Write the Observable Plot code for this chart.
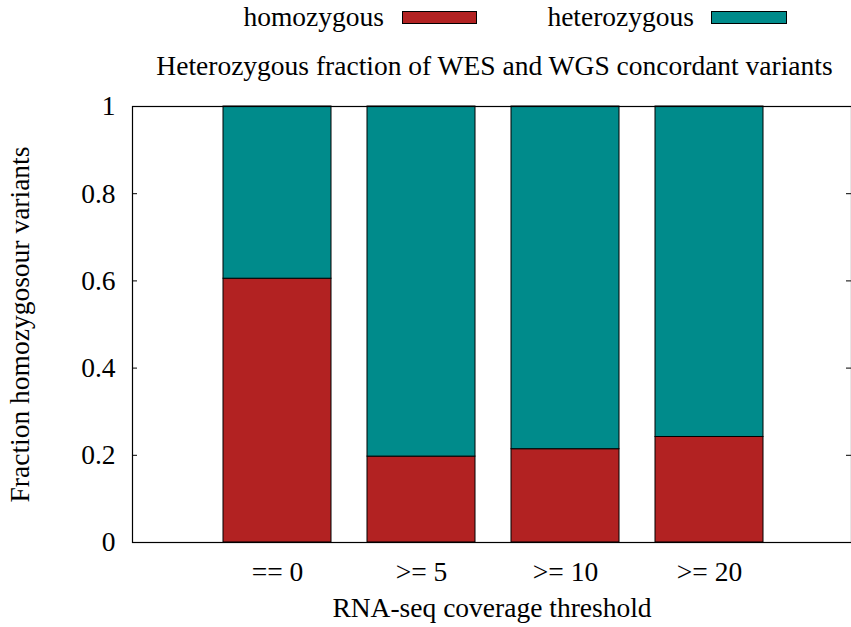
<!DOCTYPE html>
<html>
<head>
<meta charset="utf-8">
<script src="https://cdn.jsdelivr.net/npm/d3@7"></script>
<script src="https://cdn.jsdelivr.net/npm/@observablehq/plot@0.6"></script>
<style>
  html, body { margin: 0; padding: 0; background: #fff; overflow: hidden; }
  #wrap { position: relative; width: 851px; height: 627px; font-family: "Liberation Serif", "Times New Roman", serif; color: #000; background: #fff; }
  #wrap svg { position: absolute; left: 0; top: 0; overflow: hidden; }
  .leg-text { position: absolute; top: 3px; font-size: 27.5px; line-height: 27.5px; white-space: nowrap; text-align: right; }
  .leg-sw { position: absolute; top: 11px; height: 11px; border: 1px solid #000; }
  #title { position: absolute; left: 0; width: 989px; top: 52px; text-align: center; font-size: 27.5px; line-height: 27.5px; white-space: nowrap; }
</style>
</head>
<body>
<div id="wrap">
  <div class="leg-text" style="right:467px">homozygous</div>
  <div class="leg-sw" style="left:402px;width:73px;background:#b22222"></div>
  <div class="leg-text" style="right:157px">heterozygous</div>
  <div class="leg-sw" style="left:711px;width:74px;background:#008b8b"></div>
  <div id="title">Heterozygous fraction of WES and WGS concordant variants</div>
</div>
<script>
const categories = ["== 0", ">= 5", ">= 10", ">= 20"];
const homozygous = [0.605, 0.197, 0.214, 0.242];
const heterozygous = [0.395, 0.803, 0.786, 0.758];
const seriesNames = ["homozygous", "heterozygous"];
const seriesColors = ["#b22222", "#008b8b"];
const yTicks = [0, 0.2, 0.4, 0.6, 0.8, 1];
const yLabel = "Fraction homozygosour variants";
const xLabel = "RNA-seq coverage threshold";

const rows = [];
categories.forEach((c, i) => {
  rows.push({cat: c, type: seriesNames[0], value: homozygous[i]});
  rows.push({cat: c, type: seriesNames[1], value: heterozygous[i]});
});

const W = 851, H = 627;
const mL = 132, mT = 106, mB = 85;
const plotW = 721;
const FS = 27.5;

const chart = Plot.plot({
  width: W,
  height: H,
  marginLeft: mL,
  marginRight: 0,
  marginTop: mT,
  marginBottom: mB,
  style: {fontFamily: "'Liberation Serif', 'Times New Roman', serif", fontSize: FS + "px", color: "#000", background: "transparent"},
  x: {domain: categories, range: [mL, mL + plotW], paddingInner: 0.25, paddingOuter: 0.625, label: null},
  y: {domain: [0, 1], label: null},
  color: {domain: seriesNames, range: seriesColors},
  marks: [
    Plot.barY(rows, {x: "cat", y: "value", fill: "type", stroke: "#000", strokeWidth: 1, order: seriesNames}),
    Plot.tickY(yTicks, {y: d => d, insetRight: plotW - 7, stroke: "#000"}),
    Plot.tickY(yTicks, {y: d => d, insetLeft: plotW - 7, stroke: "#000"}),
    Plot.frame({stroke: "#000", strokeWidth: 1.2}),
    Plot.axisY(yTicks, {tickSize: 0, tickPadding: 17, tickFormat: d => String(d), fontSize: FS}),
    Plot.axisX({tickSize: 0, tickPadding: 19, fontSize: FS}),
    Plot.text([xLabel], {frameAnchor: "bottom", dy: 74, fontSize: FS}),
    Plot.text([yLabel], {frameAnchor: "left", textAnchor: "middle", dx: -112, rotate: -90, fontSize: FS})
  ]
});
const wrap = document.getElementById("wrap");
wrap.insertBefore(chart, wrap.firstChild);
</script>
</body>
</html>
